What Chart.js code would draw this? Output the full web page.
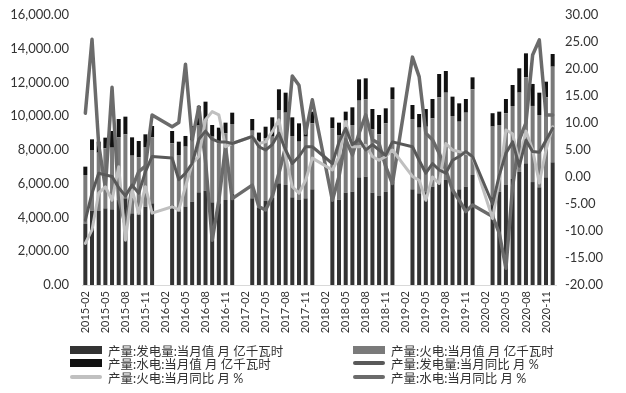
<!DOCTYPE html>
<html><head><meta charset="utf-8">
<script src="https://cdn.jsdelivr.net/npm/chart.js@4.4.0/dist/chart.umd.min.js"></script>
<style>
html,body{margin:0;padding:0;background:#fff;}
#wrap{position:relative;width:626px;height:393px;overflow:hidden;}
#c{position:absolute;left:0;top:0;}
#legend{position:absolute;left:0;top:0;width:626px;height:393px;font-family:Lato,'Noto Sans CJK SC',sans-serif;font-size:12.5px;color:#333;pointer-events:none;}
.item{position:absolute;height:14px;display:flex;align-items:center;white-space:nowrap;}
.sw{display:inline-block;width:32px;margin-right:6px;}
</style></head>
<body>
<div id="wrap"><canvas id="c" width="626" height="340"></canvas><div id="legend"></div></div>
<script>
const categories = [
 '2015-02','2015-03','2015-04','2015-05','2015-06','2015-07','2015-08','2015-09','2015-10','2015-11','2015-12',
 '2016-01','2016-02','2016-03','2016-04','2016-05','2016-06','2016-07','2016-08','2016-09','2016-10','2016-11','2016-12',
 '2017-01','2017-02','2017-03','2017-04','2017-05','2017-06','2017-07','2017-08','2017-09','2017-10','2017-11','2017-12',
 '2018-01','2018-02','2018-03','2018-04','2018-05','2018-06','2018-07','2018-08','2018-09','2018-10','2018-11','2018-12',
 '2019-01','2019-02','2019-03','2019-04','2019-05','2019-06','2019-07','2019-08','2019-09','2019-10','2019-11','2019-12',
 '2020-01','2020-02','2020-03','2020-04','2020-05','2020-06','2020-07','2020-08','2020-09','2020-10','2020-11','2020-12'
];
// 产量:发电量:当月值 (亿千瓦时)
const genTotal = [
 3615,4405,4385,4543,4484,5037,5136,4247,4148,4642,4840,
 null,null,4741,4346,4650,4938,5491,5590,4899,4839,5037,5400,
 null,null,5136,4600,5000,5175,6025,5926,5195,5037,5136,5669,
 null,null,5200,5050,5472,5531,6380,6420,5472,5274,5531,6100,
 null,null,5669,5432,5500,5827,6222,6222,5669,5669,5827,6518,
 null,null,5200,5531,5926,6281,6700,7210,6100,5788,6380,7269
];
// 产量:火电:当月值 (亿千瓦时)
const thermalGen = [
 2904,3595,3457,3556,3654,3714,3793,3417,3417,3536,3911,
 null,null,3654,3358,3550,3654,3990,4148,3891,3556,3951,4140,
 null,null,4010,3800,3690,3615,4346,4286,3635,3457,3654,3911,
 null,null,4080,3840,4306,3951,4543,4583,3753,3654,4049,4900,
 null,null,4168,3891,3880,4049,4899,5175,4346,4010,4385,5077,
 null,null,4190,3951,4247,4326,4700,5096,4510,4286,4741,5669
];
// 产量:水电:当月值 (亿千瓦时)
const hydroGen = [
 494,632,652,632,988,1086,1047,1086,968,751,672,
 null,null,731,790,632,830,1126,1126,691,928,632,672,
 null,null,691,632,691,1146,1225,1185,1106,1086,790,691,
 null,null,652,731,494,1047,1264,1244,1205,1146,889,711,
 null,null,830,810,1047,1146,1383,1284,1146,1086,810,711,
 null,null,790,790,849,1244,1442,1422,1304,1323,928,751
];
// 产量:发电量:当月同比 (%)
const genYoY = [
 -8.0,-3.0,0.7,0.4,0.1,-2.0,-3.5,-1.5,-3.0,1.0,3.8,
 null,null,3.5,-0.5,0.7,2.5,7.0,8.5,7.0,6.5,6.5,6.2,
 null,null,7.5,5.6,5.0,6.0,8.1,5.0,2.5,3.8,5.6,5.6,
 null,null,2.5,6.5,9.0,6.0,7.0,5.0,6.0,5.0,4.0,6.5,
 null,null,5.6,3.1,0.7,2.5,1.3,0.7,3.1,3.8,4.7,3.8,
 null,null,-5.0,0.3,4.4,6.5,2.0,6.8,4.7,4.6,6.8,9.0
];
// 产量:火电:当月同比 (%)
const thermalYoY = [
 -12.3,-9.8,-3.0,-1.8,-4.3,1.9,-11.7,-2.4,-6.7,-1.8,-6.7,
 null,null,-5.5,-6.1,-1.8,2.5,3.8,10.6,12.1,11.5,5.6,6.2,
 null,null,7.5,6.2,6.5,8.4,10.6,3.8,-1.8,-3.0,-0.6,3.5,
 null,null,1.3,3.8,10.2,5.6,5.6,5.9,3.8,3.1,3.8,5.0,
 null,null,0.1,-0.6,-4.3,0.0,-1.2,6.2,5.0,4.7,4.4,3.8,
 null,null,-7.7,-0.6,8.7,8.0,2.8,8.5,5.0,-1.1,5.0,9.3
];
// 产量:水电:当月同比 (%)
const hydroYoY = [
 11.8,25.5,6.0,-2.0,16.6,-4.0,-9.0,-2.0,1.0,2.0,11.5,
 null,null,9.3,10.1,20.9,6.9,13.0,3.0,-11.7,-4.3,5.6,-4.0,
 null,null,-1.5,-5.5,-6.1,-3.6,0.7,5.6,18.7,17.0,8.1,14.3,
 null,null,-4.3,0.1,6.9,4.1,8.1,11.5,6.9,6.2,1.9,-1.2,
 null,null,22.2,18.6,8.1,6.9,4.4,1.3,-2.4,-4.3,-6.4,-5.2,
 null,null,-7.3,-10.4,-16.9,-1.8,6.9,10.0,22.6,25.4,11.5,11.5
];
const seriesNames = [
 '产量:发电量:当月值 月 亿千瓦时',
 '产量:火电:当月值 月 亿千瓦时',
 '产量:水电:当月值 月 亿千瓦时',
 '产量:发电量:当月同比 月 %',
 '产量:火电:当月同比 月 %',
 '产量:水电:当月同比 月 %'
];
const colors = ['#333333','#7a7a7a','#111111','#595959','#c0c0c0','#6b6b6b'];

const FONT = "Lato, 'Noto Sans CJK SC', sans-serif";
Chart.defaults.font.family = FONT;
Chart.defaults.color = '#333';

const barDs = (i, d) => ({type:'bar', label:seriesNames[i], data:d, backgroundColor:colors[i], stack:'s', yAxisID:'y', order:2, categoryPercentage:1, barPercentage:0.6});
const lineDs = (i, d, w) => ({type:'line', label:seriesNames[i], data:d, borderColor:colors[i], backgroundColor:colors[i], yAxisID:'y1', order:1, borderWidth:w, pointRadius:0, spanGaps:true, tension:0, borderJoinStyle:'round', borderCapStyle:'round'});

const fitV = w => s => { s.width = w; s.paddingTop = 0; s.paddingBottom = 0; };

const chart = new Chart(document.getElementById('c'), {
  data: {
    labels: categories,
    datasets: [
      barDs(0, genTotal), barDs(1, thermalGen), barDs(2, hydroGen),
      lineDs(3, genYoY, 3), lineDs(4, thermalYoY, 3), lineDs(5, hydroYoY, 3.5)
    ]
  },
  options: {
    responsive:false, animation:false, devicePixelRatio:1,
    layout:{padding:{top:15,left:0,right:0,bottom:0}},
    plugins:{legend:{display:false}, tooltip:{enabled:false}},
    scales:{
      x:{stacked:true, offset:true, grid:{display:false, drawTicks:false}, border:{display:true,color:'#d9d9d9',width:1},
         ticks:{autoSkip:false, maxRotation:90, minRotation:90, padding:6, font:{size:11}, color:'#333',
                callback:(v,i)=> i%3===0 ? categories[i] : ''},
         afterFit:s=>{s.height=55; s.paddingLeft=0; s.paddingRight=0;}},
      y:{stacked:true, position:'left', min:0, max:16000,
         ticks:{stepSize:2000, padding:13, font:{size:13}, color:'#333',
                callback:v=>Number(v).toLocaleString('en-US',{minimumFractionDigits:2,maximumFractionDigits:2})},
         grid:{display:false, drawTicks:false}, border:{display:false},
         afterFit:fitV(82)},
      y1:{position:'right', min:-20, max:30,
         ticks:{stepSize:5, padding:9, font:{size:13}, color:'#333', callback:v=>Number(v).toFixed(2)},
         grid:{display:false, drawTicks:false}, border:{display:false},
         afterFit:fitV(70)}
    }
  }
});

// HTML legend built from the chart's datasets
const leg = document.getElementById('legend');
const pos = [[70,343],[353,343],[70,356],[353,356],[70,370],[353,370]];
chart.data.datasets.forEach((ds, i) => {
  const it = document.createElement('div');
  it.className = 'item';
  it.style.left = pos[i][0] + 'px';
  it.style.top = pos[i][1] + 'px';
  const sw = document.createElement('span');
  sw.className = 'sw';
  if (ds.type === 'bar') { sw.style.height = '8px'; sw.style.background = ds.backgroundColor; }
  else { sw.style.height = '4px'; sw.style.background = ds.borderColor; sw.style.borderRadius = '2px'; }
  it.appendChild(sw);
  const t = document.createElement('span');
  t.textContent = ds.label;
  it.appendChild(t);
  leg.appendChild(it);
});
</script>
</body></html>
